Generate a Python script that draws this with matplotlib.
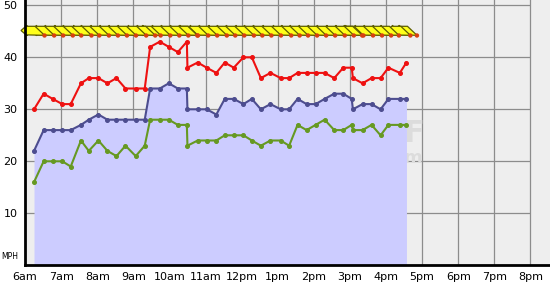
import numpy as np
import matplotlib.pyplot as plt
from matplotlib.patches import Polygon, Circle
from matplotlib.transforms import ScaledTranslation

# observation times (local) and wind speeds in mph
times = ["6:15", "6:31", "6:46", "7:02", "7:16", "7:33", "7:46", "8:02", "8:17", "8:32",
         "8:47", "9:04", "9:19", "9:28", "9:44", "9:59", "10:14", "10:29", "10:30", "10:47",
         "11:02", "11:18", "11:32", "11:47", "12:03", "12:17", "12:32", "12:48", "13:05", "13:19",
         "13:33", "13:48", "14:03", "14:18", "14:34", "14:49", "15:03", "15:05", "15:21", "15:36",
         "15:51", "16:04", "16:23", "16:34"]
gust = [30, 33, 32, 31, 31, 35, 36, 36, 35, 36,
        34, 34, 34, 42, 43, 42, 41, 43, 38, 39,
        38, 37, 39, 38, 40, 40, 36, 37, 36, 36,
        37, 37, 37, 37, 36, 38, 38, 36, 35, 36,
        36, 38, 37, 39]
avg = [22, 26, 26, 26, 26, 27, 28, 29, 28, 28,
       28, 28, 28, 34, 34, 35, 34, 34, 30, 30,
       30, 29, 32, 32, 31, 32, 30, 31, 30, 30,
       32, 31, 31, 32, 33, 33, 32, 30, 31, 31,
       30, 32, 32, 32]
lull = [16, 20, 20, 20, 19, 24, 22, 24, 22, 21,
        23, 21, 23, 28, 28, 28, 27, 27, 23, 24,
        24, 24, 25, 25, 25, 24, 23, 24, 24, 23,
        27, 26, 27, 28, 26, 26, 27, 26, 26, 27,
        25, 27, 27, 27]

hour_ticks = list(range(6, 21))
hour_labels = ["6am", "7am", "8am", "9am", "10am", "11am", "12pm", "1pm",
               "2pm", "3pm", "4pm", "5pm", "6pm", "7pm", "8pm"]
speed_ticks = [10, 20, 30, 40, 50]
DIR_LEVEL = 45


def to_hours(t):
    h, m = t.split(":")
    return int(h) + int(m) / 60.0


x = np.array([to_hours(t) for t in times])

W, H = 550, 285
PX_PER_HOUR = 36.1
PX_PER_MPH = 5.2
left_px, bottom_px = 25, H - 265.3

fig = plt.figure(figsize=(W / 100, H / 100), dpi=100)
fig.patch.set_facecolor("white")
ax = fig.add_axes([left_px / W, bottom_px / H, (W - left_px) / W, (H - bottom_px) / H])
ax.set_facecolor("#eeeeee")
ax.set_xlim(6, 6 + (W - left_px) / PX_PER_HOUR)
ax.set_ylim(0, (H - bottom_px) / PX_PER_MPH)

# grid
for h in hour_ticks[1:]:
    ax.axvline(h, color="#8c8c8c", lw=0.9, zorder=0.5)
ax.hlines(speed_ticks, 6, 20, color="#8c8c8c", lw=0.9, zorder=0.5)

# faint watermark, mostly hidden behind the fill
ax.text(6 + (403 - left_px) / PX_PER_HOUR, (265.3 - 134) / PX_PER_MPH, "F",
        fontsize=22, fontweight="bold", color="#dcdcdc", va="center", ha="left", zorder=0.7)
ax.text(6 + (403 - left_px) / PX_PER_HOUR, (265.3 - 158) / PX_PER_MPH, "m",
        fontsize=13, fontweight="bold", color="#dcdcdc", va="center", ha="left", zorder=0.7)

ax.fill_between(x, avg, 0, color="#ccccff", lw=0, zorder=1)

ax.plot(x, gust, color="#ee1111", lw=1.5, marker="o", ms=2.6, zorder=3)
ax.plot(x, avg, color="#4d4d8f", lw=1.5, marker="o", ms=2.6, zorder=3)
ax.plot(x, lull, color="#669922", lw=1.5, marker="o", ms=2.6, zorder=3)

# wind direction arrows, shape in pixels around each point (y up)
arrow = np.array([[-13, 0.8], [-7, 6.0], [-7, 5.0], [1, 5.0],
                  [10.5, -4.0], [-7, -3.6], [-7, -4.4]])
tail = (10.5, -4.2)
for xi in x[::-1]:
    tr = fig.dpi_scale_trans + ScaledTranslation(xi, DIR_LEVEL, ax.transData)
    ax.add_patch(Polygon(arrow / 100, closed=True, facecolor="#ffff1a",
                         edgecolor="#5c5c00", lw=0.9, transform=tr, clip_on=False, zorder=4))
for xi in x:
    tr = fig.dpi_scale_trans + ScaledTranslation(xi, DIR_LEVEL, ax.transData)
    ax.add_patch(Circle((tail[0] / 100, tail[1] / 100), 2.2 / 100, facecolor="#d84010",
                        edgecolor="none", transform=tr, clip_on=False, zorder=5))

for side in ["top", "right"]:
    ax.spines[side].set_visible(False)
for side in ["left", "bottom"]:
    ax.spines[side].set_color("black")
    ax.spines[side].set_linewidth(2.0)
    ax.spines[side].set_zorder(6)

ax.set_xticks(hour_ticks, hour_labels)
ax.set_yticks(speed_ticks)
ax.tick_params(axis="both", length=0, labelsize=8, colors="black")
ax.tick_params(axis="x", pad=4.5)
ax.tick_params(axis="y", pad=5.5)

fig.text(1 / W, (H - 256.7) / H, "MPH", fontsize=5.5, va="center", ha="left")

fig.savefig("out.png", dpi=100)
plt.close(fig)
